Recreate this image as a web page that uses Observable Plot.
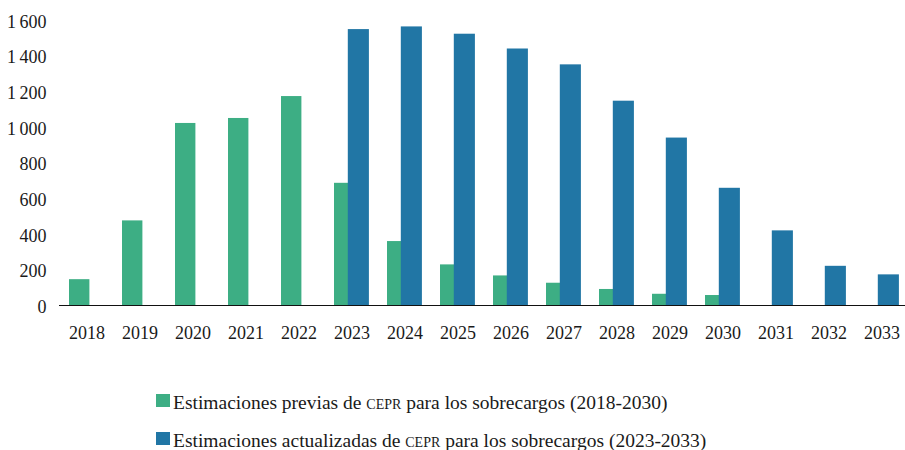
<!DOCTYPE html>
<html>
<head>
<meta charset="utf-8">
<script src="https://cdn.jsdelivr.net/npm/d3@7"></script>
<script src="https://cdn.jsdelivr.net/npm/@observablehq/plot@0.6"></script>
<style>
  html, body { margin: 0; padding: 0; background: #fff; }
  body { width: 905px; height: 450px; overflow: hidden; position: relative; font-family: "Liberation Serif", serif; }
  #chart svg { display: block; overflow: visible; }
  #chart svg text { font-family: "Liberation Serif", serif; }
  .lg-sw { position: absolute; left: 156px; width: 14px; height: 13px; }
  .lg-tx { position: absolute; left: 173px; font-family: "Liberation Serif", serif; font-size: 19.5px; line-height: 19.5px; white-space: nowrap; color: #1a1a1a; }
  .sc { font-variant: small-caps; }
</style>
</head>
<body>
<div id="chart"></div>
<div id="legend"></div>
<script>
const years = ["2018","2019","2020","2021","2022","2023","2024","2025","2026","2027","2028","2029","2030","2031","2032","2033"];
const previas = [145, 475, 1022, 1050, 1173, 686, 359, 228, 166, 125, 90, 63, 56, null, null, null];
const actualizadas = [null, null, null, null, null, 1549, 1564, 1523, 1440, 1351, 1147, 940, 658, 419, 220, 172];
const yTicks = [0, 200, 400, 600, 800, 1000, 1200, 1400, 1600];
const seriesNames = ["Estimaciones previas de CEPR para los sobrecargos (2018-2030)", "Estimaciones actualizadas de CEPR para los sobrecargos (2023-2033)"];
const colors = ["#3dae84", "#2176a5"];

const dPrev = years.map((y, i) => ({year: y, value: previas[i]})).filter(d => d.value != null);
const dAct = years.map((y, i) => ({year: y, value: actualizadas[i]})).filter(d => d.value != null);

const fmt = d => d >= 1000 ? String(Math.floor(d / 1000)) + "\u2009" + String(d % 1000).padStart(3, "0") : String(d);

const chart = Plot.plot({
  width: 905,
  height: 350,
  marginTop: 20,
  marginBottom: 45,
  marginLeft: 59,
  marginRight: 0,
  style: { fontFamily: "'Liberation Serif', serif", fontSize: "18px", color: "#1a1a1a", background: "white" },
  x: { type: "band", domain: years, range: [58, 909], padding: 0, label: null },
  y: { domain: [0, 1600], label: null },
  marks: [
    Plot.barY(dPrev, { x: "year", y: "value", fill: colors[0], insetLeft: 9, insetRight: 23.6 }),
    Plot.barY(dAct, { x: "year", y: "value", fill: colors[1], insetLeft: 22.8, insetRight: 9.1 }),
    Plot.ruleY([0], { stroke: "#111", strokeWidth: 1.2 }),
    Plot.axisX({ tickSize: 0, tickPadding: 20.5, label: null, fontSize: 18 }),
    Plot.axisY({ ticks: yTicks, tickSize: 0, tickPadding: 13, tickFormat: fmt, label: null, fontSize: 18, dy: 1.5 })
  ]
});
document.getElementById("chart").appendChild(chart);

const legend = document.getElementById("legend");
const swTops = [394, 432];
const txTops = [392.7, 430.7];
seriesNames.forEach((name, i) => {
  const sw = document.createElement("div");
  sw.className = "lg-sw";
  sw.style.top = swTops[i] + "px";
  sw.style.background = colors[i];
  legend.appendChild(sw);
  const txt = document.createElement("div");
  txt.className = "lg-tx";
  txt.style.top = txTops[i] + "px";
  txt.innerHTML = name.replace("CEPR", '<span class="sc">cepr</span>');
  legend.appendChild(txt);
});
</script>
</body>
</html>
